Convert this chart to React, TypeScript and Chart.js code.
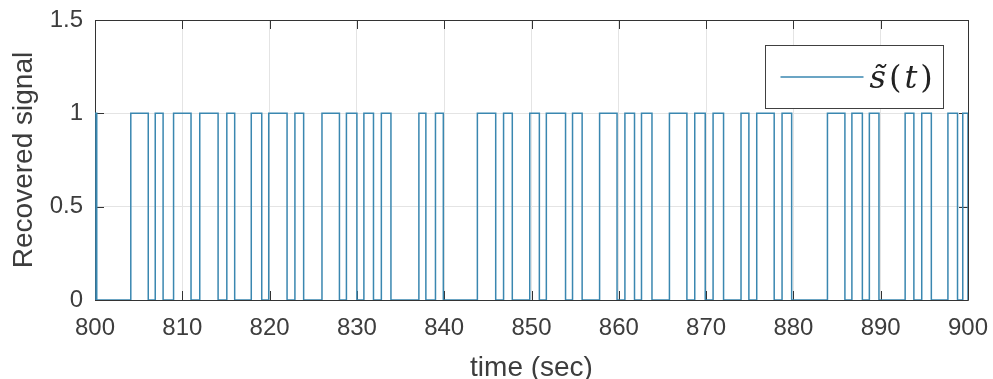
import React, { useEffect, useRef } from "react";
import { Chart, registerables } from "chart.js";

Chart.register(...registerables);

// Pulse edges of the recovered signal (seconds)
const risingEdges = [
  800.0, 804.1, 806.9, 809.0, 812.0, 815.1, 817.9, 819.9, 822.9, 826.0,
  828.8, 830.8, 832.8, 837.1, 839.0, 843.8, 846.8, 849.8, 851.7, 854.7,
  857.8, 860.7, 862.6, 865.8, 868.7, 870.8, 874.0, 875.8, 878.7, 883.9,
  886.7, 888.7, 892.8, 894.7, 897.7, 899.4,
];
const fallingEdges = [
  800.2, 806.1, 807.8, 811.0, 814.1, 816.0, 819.1, 822.0, 823.9, 828.0,
  830.0, 831.9, 833.9, 837.9, 839.9, 845.9, 847.8, 850.9, 853.9, 855.8,
  859.8, 861.8, 863.8, 867.8, 869.9, 872.0, 874.9, 877.8, 879.8, 885.9,
  887.9, 889.8, 893.8, 895.8, 898.8, 900.0,
];
const lowLevel = 0;
const highLevel = 1;
const xTicks = [800, 810, 820, 830, 840, 850, 860, 870, 880, 890, 900];
const yTicks = [0, 0.5, 1, 1.5];
const seriesLabel = "s\u0303(t)";
const xTitle = "time (sec)";
const yTitle = "Recovered signal";

const LINE_COLOR = "#3a87b0";
const AXIS_COLOR = "#333333";
const TEXT_COLOR = "#3d3d3d";
const FONT = "'Liberation Sans', Arial, sans-serif";

function buildPoints() {
  const pts: { x: number; y: number }[] = [];
  for (let i = 0; i < risingEdges.length; i++) {
    const r = risingEdges[i];
    const f = fallingEdges[i];
    pts.push({ x: r, y: lowLevel }, { x: r, y: highLevel }, { x: f, y: highLevel }, { x: f, y: lowLevel });
  }
  return pts;
}

function zeroPadding(s: any) {
  s.paddingTop = 0;
  s.paddingBottom = 0;
  s.paddingLeft = 0;
  s.paddingRight = 0;
}

const boxPlugin = {
  id: "matlabBox",
  beforeDatasetsDraw(chart: any) {
    const { ctx, chartArea } = chart;
    const { left, right, top, bottom } = chartArea;
    const xs = chart.scales.x;
    const ys = chart.scales.y;
    ctx.save();
    ctx.strokeStyle = AXIS_COLOR;
    ctx.lineWidth = 1;
    ctx.beginPath();
    ctx.rect(Math.round(left) + 0.5, Math.round(top) + 0.5, Math.round(right - left), Math.round(bottom - top));
    ctx.stroke();
    const tl = 9;
    ctx.beginPath();
    xTicks.forEach((v) => {
      const px = Math.round(xs.getPixelForValue(v)) + 0.5;
      ctx.moveTo(px, bottom);
      ctx.lineTo(px, bottom - tl);
      ctx.moveTo(px, top);
      ctx.lineTo(px, top + tl);
    });
    yTicks.forEach((v) => {
      const py = Math.round(ys.getPixelForValue(v)) + 0.5;
      ctx.moveTo(left, py);
      ctx.lineTo(left + tl, py);
      ctx.moveTo(right, py);
      ctx.lineTo(right - tl, py);
    });
    ctx.stroke();
    ctx.restore();
  },
  afterDraw(chart: any) {
    const { ctx, chartArea } = chart;
    const { right, top } = chartArea;
    ctx.save();
    // legend
    const bw = 178;
    const bh = 63;
    const bx = Math.round(right - 25 - bw) + 0.5;
    const by = Math.round(top + 25) + 0.5;
    ctx.fillStyle = "#ffffff";
    ctx.fillRect(bx, by, bw, bh);
    ctx.strokeStyle = "#404040";
    ctx.lineWidth = 1;
    ctx.strokeRect(bx, by, bw, bh);
    const ds = chart.data.datasets[0];
    const ly = by + bh / 2;
    ctx.strokeStyle = ds.borderColor;
    ctx.lineWidth = 1.5;
    ctx.beginPath();
    ctx.moveTo(bx + 15, ly);
    ctx.lineTo(bx + 98, ly);
    ctx.stroke();
    const label: string = ds.label;
    const parts = [
      { t: label.slice(0, 2), f: "italic 32px 'DejaVu Serif', serif" },
      { t: label.slice(2, 3), f: "32px 'DejaVu Serif', serif" },
      { t: label.slice(3, 4), f: "italic 32px 'DejaVu Serif', serif" },
      { t: label.slice(4, 5), f: "32px 'DejaVu Serif', serif" },
    ];
    ctx.fillStyle = "#222222";
    ctx.textBaseline = "alphabetic";
    ctx.textAlign = "left";
    let tx = bx + 104;
    const base = ly + 11;
    parts.forEach((p) => {
      ctx.font = p.f;
      ctx.fillText(p.t, tx, base);
      tx += ctx.measureText(p.t).width + 3;
    });
    ctx.restore();
  },
};

export default function App() {
  const ref = useRef<HTMLCanvasElement | null>(null);
  useEffect(() => {
    if (!ref.current) return;
    const chart = new Chart(ref.current, {
      type: "line",
      data: {
        datasets: [
          {
            label: seriesLabel,
            data: buildPoints(),
            borderColor: LINE_COLOR,
            borderWidth: 1.5,
            pointRadius: 0,
            tension: 0,
            fill: false,
          },
        ],
      },
      options: {
        animation: false,
        responsive: true,
        maintainAspectRatio: false,
        parsing: false as any,
        layout: { padding: { top: 20, right: 25, left: 0, bottom: 0 } },
        plugins: { legend: { display: false }, tooltip: { enabled: false } },
        scales: {
          x: {
            type: "linear",
            min: 800,
            max: 900,
            afterBuildTicks: (s: any) => {
              s.ticks = xTicks.map((v) => ({ value: v }));
            },
            afterFit: (s: any) => {
              s.height = 79;
              zeroPadding(s);
            },
            grid: { color: "#e4e4e4", drawTicks: false, lineWidth: 1 },
            border: { display: false },
            ticks: {
              color: TEXT_COLOR,
              font: { family: FONT, size: 24 },
              padding: 14,
              maxRotation: 0,
              autoSkip: false,
              callback: (v: any) => String(v),
            },
            title: {
              display: true,
              text: xTitle,
              color: TEXT_COLOR,
              font: { family: FONT, size: 28, lineHeight: 0.8 },
              padding: { top: 1, bottom: 0 },
            },
          },
          y: {
            type: "linear",
            min: 0,
            max: 1.5,
            afterBuildTicks: (s: any) => {
              s.ticks = yTicks.map((v) => ({ value: v }));
            },
            afterFit: (s: any) => {
              s.width = 95;
              zeroPadding(s);
            },
            grid: { color: "#e4e4e4", drawTicks: false, lineWidth: 1 },
            border: { display: false },
            ticks: {
              color: TEXT_COLOR,
              font: { family: FONT, size: 24 },
              padding: 12,
              callback: (v: any) => String(v),
            },
            title: {
              display: true,
              text: yTitle,
              color: TEXT_COLOR,
              font: { family: FONT, size: 28, lineHeight: 1.2 },
              padding: { top: 7, bottom: 0 },
            },
          },
        },
      },
      plugins: [boxPlugin],
    });
    return () => chart.destroy();
  }, []);
  return (
    <div style={{ position: "fixed", left: 0, top: 0, width: 993, height: 379, background: "#fff" }}>
      <canvas ref={ref} />
    </div>
  );
}
